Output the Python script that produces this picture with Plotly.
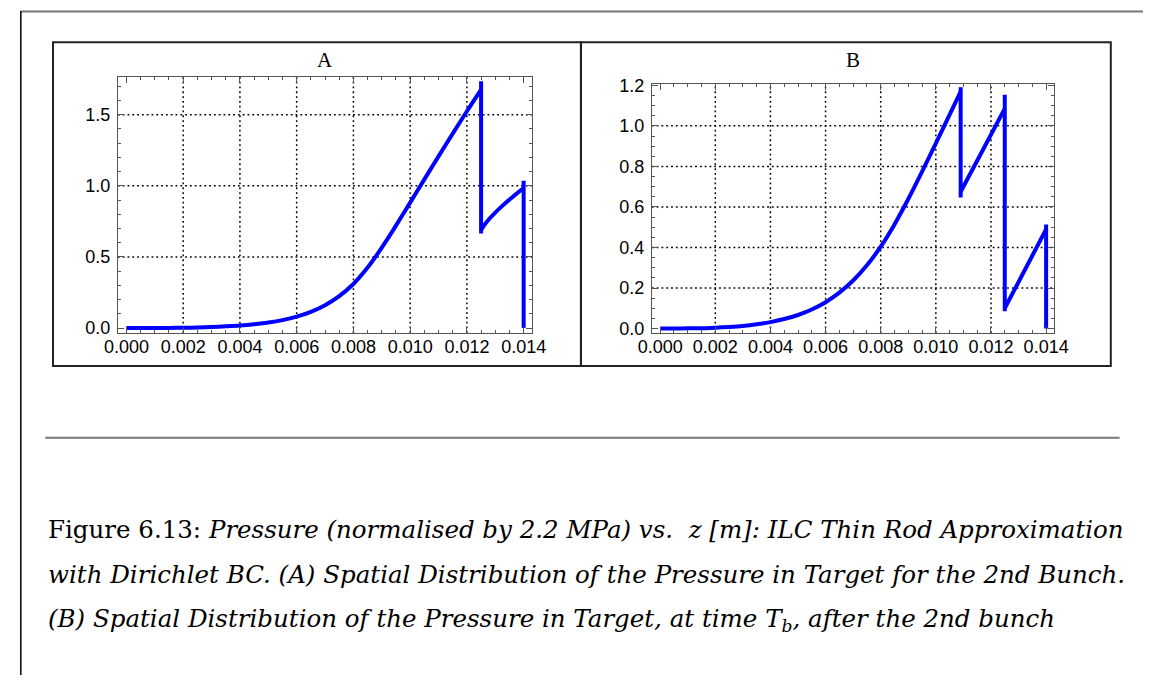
import plotly.graph_objects as go

W, H = 1157, 681

# ---- Panel A: pressure for the 2nd bunch ----
A_Z_RISE = [0.0, 0.0005, 0.001, 0.0015, 0.002, 0.0025, 0.003, 0.0035, 0.004, 0.0045,
            0.005, 0.0055, 0.006, 0.0065, 0.007, 0.0075, 0.008, 0.0085, 0.009,
            0.0095, 0.010, 0.0105, 0.011, 0.0115, 0.012, 0.0125]
A_P_RISE = [0.0, 0.0002, 0.0005, 0.001, 0.002, 0.004, 0.007, 0.012, 0.018, 0.027,
            0.039, 0.056, 0.080, 0.114, 0.161, 0.225, 0.31, 0.425, 0.565,
            0.72, 0.882, 1.045, 1.207, 1.367, 1.524, 1.676]
A_Z_TAIL = [0.0125, 0.0126, 0.0128, 0.0130, 0.0132, 0.0134, 0.0136, 0.0138, 0.0140]
A_P_TAIL = [0.69, 0.72, 0.77, 0.812, 0.850, 0.886, 0.920, 0.953, 0.985]
A_JUMP_Z = [0.0125, 0.0140]
A_JUMP_TOP = [1.735, 1.035]
A_JUMP_BOTTOM = [0.665, 0.0]

# ---- Panel B: pressure at time T_b after the 2nd bunch ----
B_Z_RISE = [0.0, 0.0005, 0.001, 0.0015, 0.002, 0.0025, 0.003, 0.0035, 0.004, 0.0045,
            0.005, 0.0055, 0.006, 0.0065, 0.007, 0.0075, 0.008, 0.0085, 0.009,
            0.0095, 0.010, 0.0105, 0.0109]
B_P_RISE = [0.0, 0.0003, 0.001, 0.002, 0.0045, 0.008, 0.013, 0.021, 0.032, 0.047,
            0.067, 0.094, 0.130, 0.177, 0.237, 0.312, 0.404, 0.514, 0.639,
            0.774, 0.914, 1.056, 1.169]
B_Z_MID = [0.0109, 0.0117, 0.0125]
B_P_MID = [0.675, 0.88, 1.085]
B_Z_TAIL = [0.0125, 0.01325, 0.0140]
B_P_TAIL = [0.10, 0.295, 0.49]
B_JUMP_Z = [0.0109, 0.0125, 0.0140]
B_JUMP_TOP = [1.19, 1.153, 0.513]
B_JUMP_BOTTOM = [0.647, 0.086, 0.0]

# ---- axes ----
X_TICKS = [0.0, 0.002, 0.004, 0.006, 0.008, 0.010, 0.012, 0.014]
X_GRID = [0.002, 0.004, 0.006, 0.008, 0.010, 0.012]
A_Y_TICKS = [0.0, 0.5, 1.0, 1.5]
A_Y_GRID = [0.5, 1.0, 1.5]
B_Y_TICKS = [0.0, 0.2, 0.4, 0.6, 0.8, 1.0, 1.2]
B_Y_GRID = [0.2, 0.4, 0.6, 0.8, 1.0]

CAPTION = [
    "Figure 6.13: <i>Pressure (normalised by 2.2 MPa) vs.  z [m]: ILC Thin Rod Approximation</i>",
    "<i>with Dirichlet BC. (A) Spatial Distribution of the Pressure in Target for the 2nd Bunch.</i>",
    "<i>(B) Spatial Distribution of the Pressure in Target, at time T<sub>b</sub>, after the 2nd bunch</i>",
]

BLUE = "#0000ff"
FRAME = "#555555"


def px(x):
    return x / W


def py(y):
    return 1 - y / H


fig = go.Figure()


def add_panel(xa, ya, segments, jz, jtop, jbot):
    for zs, ps in segments:
        fig.add_trace(go.Scatter(x=zs, y=ps, mode="lines", xaxis=xa, yaxis=ya,
                                 line=dict(color=BLUE, width=4, shape="spline",
                                           smoothing=0.8),
                                 hoverinfo="skip"))
    for z, t, b in zip(jz, jtop, jbot):
        fig.add_trace(go.Scatter(x=[z, z], y=[t, b], mode="lines", xaxis=xa, yaxis=ya,
                                 line=dict(color=BLUE, width=4), hoverinfo="skip"))


add_panel("x", "y", [(A_Z_RISE, A_P_RISE), (A_Z_TAIL, A_P_TAIL)],
          A_JUMP_Z, A_JUMP_TOP, A_JUMP_BOTTOM)
add_panel("x2", "y2", [(B_Z_RISE, B_P_RISE), (B_Z_MID, B_P_MID), (B_Z_TAIL, B_P_TAIL)],
          B_JUMP_Z, B_JUMP_TOP, B_JUMP_BOTTOM)

tickfont = dict(family="Liberation Sans, Arial, sans-serif", size=18, color="black")


def axis_style(ticks, fmt, minor_dtick, domain, rng, anchor, standoff):
    return dict(
        domain=domain, range=rng, anchor=anchor,
        tickvals=ticks, tickformat=fmt, tickfont=tickfont,
        ticks="inside", ticklen=6, tickwidth=1, tickcolor=FRAME,
        minor=dict(ticks="inside", ticklen=3, dtick=minor_dtick, tickcolor=FRAME,
                   tickwidth=1, showgrid=False),
        showline=True, linecolor=FRAME, linewidth=1, mirror="allticks",
        showgrid=False, zeroline=False, ticklabelstandoff=standoff,
    )


fig.update_layout(
    width=W, height=H,
    margin=dict(l=0, r=0, t=0, b=0),
    paper_bgcolor="white", plot_bgcolor="white",
    showlegend=False,
    xaxis=axis_style(X_TICKS, ".3f", 0.0005, [px(106.5), px(531)], [-0.0003, 0.0143], "y", -3),
    yaxis=axis_style(A_Y_TICKS, ".1f", 0.1, [py(332), py(70)], [-0.036, 1.768], "x", 3),
    xaxis2=axis_style(X_TICKS, ".3f", 0.0005, [px(653.7), px(1066.2)], [-0.0003, 0.0143], "y2", -3),
    yaxis2=axis_style(B_Y_TICKS, ".1f", 0.05, [py(332), py(77.3)], [-0.0227, 1.208], "x2", 3),
)

shapes = []
dots = dict(color="black", width=1.5, dash="1.8px,3px")
for xa, ya, ygrid in (("x", "y", A_Y_GRID), ("x2", "y2", B_Y_GRID)):
    for g in X_GRID:
        shapes.append(dict(type="line", xref=xa, yref=ya + " domain", x0=g, x1=g,
                           y0=0, y1=1, line=dots, layer="below"))
    for g in ygrid:
        shapes.append(dict(type="line", xref=xa + " domain", yref=ya, x0=0, x1=1,
                           y0=g, y1=g, line=dots, layer="below"))

# panel boxes
for x0, x1 in ((40, 581), (581, 1124)):
    shapes.append(dict(type="rect", xref="paper", yref="paper",
                       x0=px(x0), x1=px(x1), y0=py(365.5), y1=py(35),
                       line=dict(color="#222222", width=2)))

# page rules
shapes.append(dict(type="line", xref="paper", yref="paper", x0=px(7), x1=1,
                   y0=py(3.5), y1=py(3.5), line=dict(color="#777777", width=2)))
shapes.append(dict(type="line", xref="paper", yref="paper", x0=px(7), x1=px(7),
                   y0=0, y1=py(3), line=dict(color="black", width=1.5)))
shapes.append(dict(type="line", xref="paper", yref="paper", x0=px(32), x1=px(1133),
                   y0=py(438.7), y1=py(438.7), line=dict(color="#777777", width=2)))
fig.update_layout(shapes=shapes)

annotations = []
titlefont = dict(family="Liberation Serif, Times New Roman, serif", size=21, color="black")
for label, cx in (("A", 318.7), ("B", 860)):
    annotations.append(dict(text=label, xref="paper", yref="paper", x=px(cx), y=py(53),
                            xanchor="center", yanchor="middle", showarrow=False,
                            font=titlefont))

capfont = dict(family="DejaVu Serif, serif", size=24.5, color="black")
for text, cy in zip(CAPTION, (532, 578, 625)):
    annotations.append(dict(text=text, xref="paper", yref="paper", x=px(33), y=py(cy),
                            xanchor="left", yanchor="middle", showarrow=False,
                            font=capfont))
fig.update_layout(annotations=annotations)

fig.write_html("out.html")
